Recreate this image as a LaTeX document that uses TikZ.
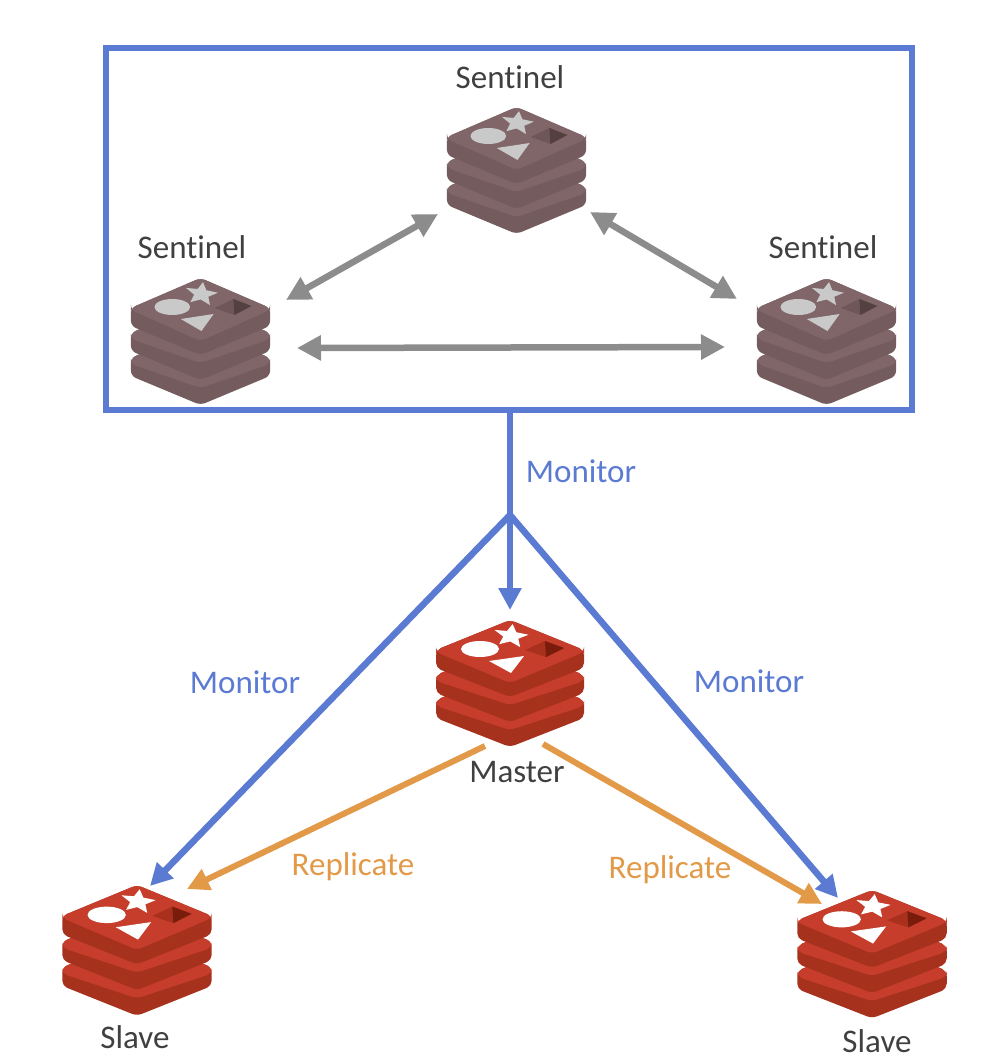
\documentclass[tikz,border=0pt]{standalone}
\usepackage{fontspec}
\setmainfont[Ligatures=NoCommon]{Carlito}
\usetikzlibrary{arrows.meta,positioning}

\definecolor{boxblue}{HTML}{5B7BD3}
\definecolor{replorange}{HTML}{E29A48}
\definecolor{linkgray}{HTML}{8C8C8C}
\definecolor{redtop}{HTML}{C63D2B}
\definecolor{redside}{HTML}{A6321E}
\definecolor{redhole}{HTML}{A8301C}
\definecolor{reddark}{HTML}{7A1C0C}
\definecolor{graytop}{HTML}{806668}
\definecolor{grayside}{HTML}{745B5D}
\definecolor{grayshape}{HTML}{C9C9C9}
\definecolor{grayhole}{HTML}{6F5759}
\definecolor{graydark}{HTML}{54403F}

% one stack: top colour, side colour, shape colour, hole, dark part of the hole
\newcommand{\stackdraw}[5]{
	\foreach \dy/\fl/\ff in {50/36/60,25/36/60,0/32/63} {
		\fill[#2,rounded corners=3pt] (-74,30+\dy) -- (0,\dy) -- (74,30+\dy) -- (74,48+\dy) -- (0,77+\dy) -- (-74,48+\dy) -- cycle;
		\fill[#1,rounded corners=3pt] (-74,\fl+\dy) -- (-74,30+\dy) -- (0,\dy) -- (74,30+\dy) -- (74,\fl+\dy) -- (0,\ff+\dy) -- cycle;
	}
	\fill[#3] (-30,29) ellipse (19 and 8);
	\fill[#3] (-21,41) -- (14,36) -- (1,53) -- cycle;
	\fill[#3,shift={(1,16)},rotate=-8] plot[samples at={0,1,...,9},variable=\k] ({(mod(\k,2)==0?18:8)*sin(36*\k)},{-(mod(\k,2)==0?12:5.5)*cos(36*\k)}) -- cycle;
	\fill[#4] (15,30) -- (35,21) -- (54,28) -- (36,37) -- cycle;
	\fill[#5] (35,21) -- (54,28) -- (36,37) -- cycle;
}

\tikzset{
	pics/redstack/.style={code={\stackdraw{redtop}{redside}{white}{redhole}{reddark}}},
	pics/graystack/.style={code={\stackdraw{graytop}{grayside}{grayshape}{grayhole}{graydark}}},
	label text/.style={font=\fontsize{18.8}{18.8}\selectfont,text=black!75,inner sep=0pt},
	monitor line/.style={draw=boxblue,line width=6.5*0.02cm},
	monitor arrow/.style={monitor line,-{Triangle[length=22*0.02cm,width=22*0.02cm]}},
	replicate arrow/.style={draw=replorange,line width=6*0.02cm,-{Triangle[length=22*0.02cm,width=22*0.02cm]}},
	link arrow/.style={draw=linkgray,line width=6.5*0.02cm,{Triangle[length=24*0.02cm,width=24*0.02cm]}-{Triangle[length=24*0.02cm,width=24*0.02cm]}},
}

\begin{document}
\begin{tikzpicture}[x=0.02cm,y=-0.02cm]
	\useasboundingbox (0,0) rectangle (1002,1060);

	\node[draw=boxblue,line width=6*0.02cm,minimum width=806*0.02cm,minimum height=362*0.02cm,outer sep=0pt,inner sep=0pt] (sentinelbox) at (509,229) {};

	\pic[xscale=0.94,yscale=1.0] at (516.5,107) {graystack};
	\pic[xscale=0.94,yscale=1.0] at (200.5,278) {graystack};
	\pic[xscale=0.94,yscale=1.0] at (826.5,278) {graystack};
	\pic at (510,620) {redstack};
	\pic[xscale=1.01,yscale=1.03] at (137,885) {redstack};
	\pic[xscale=1.01,yscale=1.01] at (872,890) {redstack};

	\node[label text] (sentineltop) at (510,77) {Sentinel};
	\node[label text] (sentinelleft) at (192,247) {Sentinel};
	\node[label text] (sentinelright) at (823,247) {Sentinel};
	\node[label text] (master) at (517,772) {Master};
	\node[label text] (slaveleft) at (135,1037) {Slave};
	\node[label text] (slaveright) at (877,1041) {Slave};
	\node[label text,text=boxblue] (monitormid) at (581,471) {Monitor};
	\node[label text,text=boxblue] (monitorleft) at (245,682) {Monitor};
	\node[label text,text=boxblue] (monitorright) at (749,681) {Monitor};
	\node[label text,text=replorange] (replicateleft) at (353,867) {Replicate};
	\node[label text,text=replorange] (replicateright) at (670,870) {Replicate};

	\coordinate (fork) at (510,515);
	\coordinate (mastertop) at (510,610);
	\coordinate (slavelefttop) at (150,886);
	\coordinate (slaverighttop) at (838,898);
	\coordinate (masterleft) at (485,746);
	\coordinate (masterright) at (543,744);
	\coordinate (slaveleftrepl) at (187,889);
	\coordinate (slaverightrepl) at (822,904);
	\coordinate (topleft) at (438,214);
	\coordinate (topright) at (590,212);
	\coordinate (leftup) at (286,300);
	\coordinate (rightup) at (737,299);
	\coordinate (leftmid) at (297,348);
	\coordinate (rightmid) at (725,347);

	\draw[monitor line] (sentinelbox.south -| fork) -- (fork);
	\draw[monitor arrow] (fork) -- (mastertop);
	\draw[monitor arrow] (fork) -- (slavelefttop);
	\draw[monitor arrow] (fork) -- (slaverighttop);
	\draw[replicate arrow] (masterleft) -- (slaveleftrepl);
	\draw[replicate arrow] (masterright) -- (slaverightrepl);
	\draw[link arrow] (topleft) -- (leftup);
	\draw[link arrow] (topright) -- (rightup);
	\draw[link arrow] (leftmid) -- (rightmid);
\end{tikzpicture}
\end{document}
